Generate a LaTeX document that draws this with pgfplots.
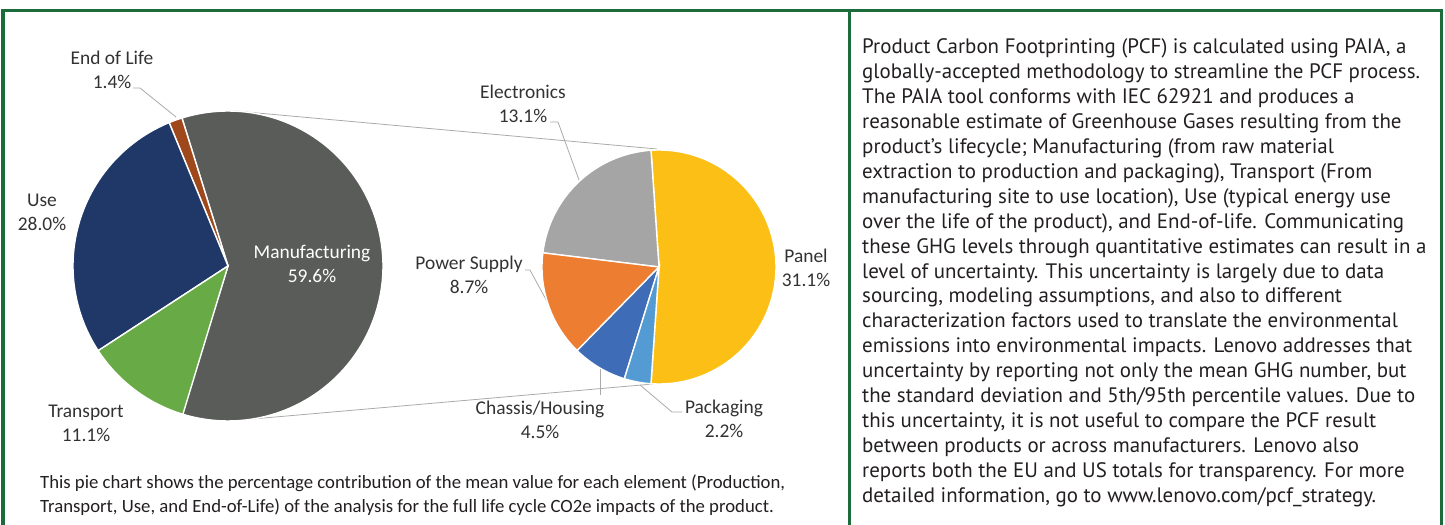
\documentclass[border=0pt]{standalone}
\usepackage{pgfplots}
\pgfplotsset{compat=1.18}
\usepackage{fontspec}
\setmainfont{Carlito}
\newfontfamily\bodyfont{PT Sans}
\definecolor{frame}{RGB}{28,107,58}
\definecolor{cmanu}{RGB}{90,92,90}
\definecolor{ceol}{RGB}{158,72,28}
\definecolor{cuse}{RGB}{31,56,104}
\definecolor{ctrans}{RGB}{104,170,70}
\definecolor{cpanel}{RGB}{251,191,22}
\definecolor{celec}{RGB}{165,165,165}
\definecolor{cpower}{RGB}{237,125,49}
\definecolor{cchassis}{RGB}{62,108,183}
\definecolor{cpack}{RGB}{84,155,212}
\definecolor{lbl}{RGB}{50,50,50}
\definecolor{txt}{RGB}{35,31,32}
\definecolor{lead}{RGB}{170,170,170}
% #1 cx, #2 cy, #3 r, #4 start angle, #5 degrees per percent, #6 cumulative percent before, #7 value, #8 colour
\newcommand\slice[8]{%
  \pgfmathsetmacro\sa{#4+#5*#6}%
  \pgfmathsetmacro\sb{#4+#5*(#6+#7)}%
  \edef\tmp{\noexpand\addplot[fill=#8, draw=white, line width=1.4bp, domain=\sa:\sb, samples=90]
    ({#1+#3*cos(x)},{#2+#3*sin(x)}) -- (axis cs:#1,#2) -- cycle;}%
  \tmp}
\newcommand\lab[4]{\node[align=center, text=#4, font=\fontsize{19.5}{24}\selectfont, inner sep=0pt] at (axis cs:#1,#2) {#3};}
\newcommand\bline[2]{\node[anchor=base west, text=txt, font=\bodyfont\fontsize{21}{24}\selectfont, inner sep=0pt] at (axis cs:862,#1) {#2};}
\begin{document}
\begin{tikzpicture}
\path[use as bounding box] (0,0) rectangle (1445bp,525bp);
\begin{axis}[hide axis, scale only axis, width=1445bp, height=525bp,
  xmin=0, xmax=1445, ymin=0, ymax=525, clip=false]
% frame
\addplot[frame, line width=3bp, no marks] coordinates {(3,0) (3,514) (1441,514) (1441,0)};
\addplot[frame, line width=3bp, no marks] coordinates {(849,0) (849,514)};
% connector lines
\addplot[lead, line width=0.8bp, no marks] coordinates {(235,414) (657,376)};
\addplot[lead, line width=0.8bp, no marks] coordinates {(241,105) (653,141)};
% leader lines
\addplot[lead, line width=0.8bp, no marks] coordinates {(133,437) (140,437) (176,408)};
\addplot[lead, line width=0.8bp, no marks] coordinates {(550,403) (558,403) (579,345)};
\addplot[lead, line width=0.8bp, no marks] coordinates {(525,255) (530,255) (550,218)};
\addplot[lead, line width=0.8bp, no marks] coordinates {(600,130) (600,158)};
\addplot[lead, line width=0.8bp, no marks] coordinates {(682,113) (672,113) (640,140)};
% main pie: Manufacturing 59.6, End of Life 1.4, Use 28.0, Transport 11.1
\slice{228}{259}{155}{-107.28}{3.6}{0}{59.6}{cmanu}
\slice{228}{259}{155}{-107.28}{3.6}{59.6}{1.4}{ceol}
\slice{228}{259}{155}{-107.28}{3.6}{61.0}{28.0}{cuse}
\slice{228}{259}{155}{-107.28}{3.6}{89.0}{11.1}{ctrans}
% secondary pie (Manufacturing split): Panel 31.1, Electronics 13.1, Power Supply 8.7, Chassis 4.5, Packaging 2.2
\slice{659}{258}{117}{-93.93}{6.0403}{0}{31.1}{cpanel}
\slice{659}{258}{117}{-93.93}{6.0403}{31.1}{13.1}{celec}
\slice{659}{258}{117}{-93.93}{6.0403}{44.2}{8.7}{cpower}
\slice{659}{258}{117}{-93.93}{6.0403}{52.9}{4.5}{cchassis}
\slice{659}{258}{117}{-93.93}{6.0403}{57.4}{2.2}{cpack}
% labels
\lab{112}{455}{End of Life\\1.4\%}{lbl}
\lab{42}{313}{Use\\28.0\%}{lbl}
\lab{86}{102}{Transport\\11.1\%}{lbl}
\lab{312}{261}{Manufacturing\\59.6\%}{white}
\lab{523}{421}{Electronics\\13.1\%}{lbl}
\lab{469}{250}{Power Supply\\8.7\%}{lbl}
\lab{806}{257}{Panel\\31.1\%}{lbl}
\lab{540}{105}{Chassis/Housing\\4.5\%}{lbl}
\lab{724}{106}{Packaging\\2.2\%}{lbl}
% caption
\node[anchor=base west, text=txt, font=\fontsize{18.8}{23}\selectfont, inner sep=0pt] at (axis cs:40,36) {This pie chart shows the percentage contribution of the mean value for each element (Production,};
\node[anchor=base west, text=txt, font=\fontsize{18.8}{23}\selectfont, inner sep=0pt] at (axis cs:40,13) {Transport, Use, and End-of-Life) of the analysis for the full life cycle CO2e impacts of the product.};
% right text
\bline{471}{Product Carbon Footprinting (PCF) is calculated using PAIA, a}
\bline{446.1}{globally-accepted methodology to streamline the PCF process.}
\bline{421.2}{The PAIA tool conforms with IEC 62921 and produces a}
\bline{396.3}{reasonable estimate of Greenhouse Gases resulting from the}
\bline{371.4}{product’s lifecycle; Manufacturing (from raw material}
\bline{346.5}{extraction to production and packaging), Transport (From}
\bline{321.6}{manufacturing site to use location), Use (typical energy use}
\bline{296.7}{over the life of the product), and End-of-life. Communicating}
\bline{271.8}{these GHG levels through quantitative estimates can result in a}
\bline{246.9}{level of uncertainty. This uncertainty is largely due to data}
\bline{222.0}{sourcing, modeling assumptions, and also to different}
\bline{197.1}{characterization factors used to translate the environmental}
\bline{172.2}{emissions into environmental impacts. Lenovo addresses that}
\bline{147.3}{uncertainty by reporting not only the mean GHG number, but}
\bline{122.4}{the standard deviation and 5th/95th percentile values. Due to}
\bline{97.5}{this uncertainty, it is not useful to compare the PCF result}
\bline{72.6}{between products or across manufacturers. Lenovo also}
\bline{47.7}{reports both the EU and US totals for transparency. For more}
\bline{22.8}{detailed information, go to www.lenovo.com/pcf\_strategy.}
\end{axis}
\end{tikzpicture}
\end{document}
